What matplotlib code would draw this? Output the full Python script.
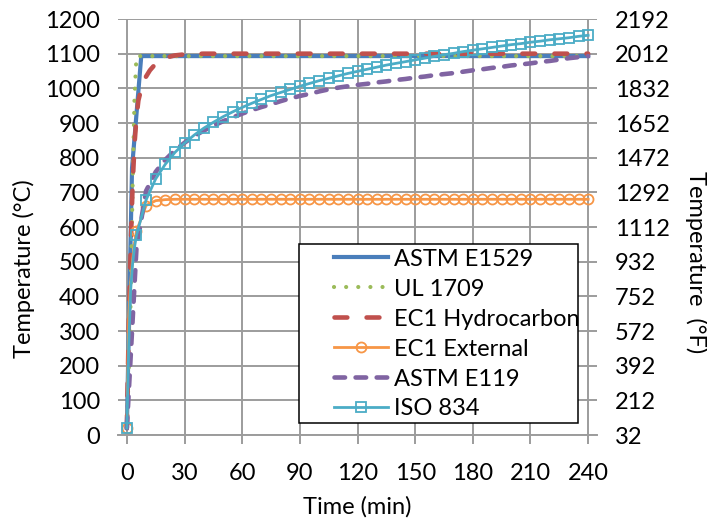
import matplotlib
matplotlib.use("Agg")
import matplotlib.pyplot as plt
from matplotlib.patches import Rectangle

plt.rcParams['font.family'] = ['Lato', 'DejaVu Sans']

# ---- data (time in min, temperature in degC) ----
t_e1529 = [0, 2.7, 7.5, 240]
T_e1529 = [20, 770, 1093, 1093]

t_ul1709 = [0, 1, 2, 3, 4, 5, 240]
T_ul1709 = [20, 190, 390, 720, 975, 1093, 1093]

t_ec1_hc = [0, 1, 2, 3, 4, 5, 6, 8, 10, 12, 15, 20, 25, 30, 40, 240]
T_ec1_hc = [20, 310, 540, 720, 840, 915, 965, 1010, 1034, 1052, 1071, 1088,
            1095, 1098, 1100, 1100]

t_5min = [0, 1, 2, 3, 4] + list(range(5, 245, 5))
T_ec1_ext = [20, 346, 441, 506, 554,
             588, 662, 676, 679, 680, 680, 680, 680, 680, 680,
             680, 680, 680, 680, 680, 680, 680, 680, 680, 680,
             680, 680, 680, 680, 680, 680, 680, 680, 680, 680,
             680, 680, 680, 680, 680, 680, 680, 680, 680, 680,
             680, 680, 680, 680, 680, 680, 680, 680]
T_iso834 = [20, 260, 420, 495, 542,
            576, 678, 739, 781, 815, 842, 865, 885, 902, 918,
            932, 945, 957, 968, 979, 988, 997, 1006, 1014, 1022,
            1029, 1036, 1043, 1049, 1055, 1061, 1067, 1072, 1077, 1082,
            1087, 1092, 1097, 1101, 1106, 1110, 1114, 1118, 1122, 1126,
            1129, 1133, 1136, 1140, 1143, 1146, 1150, 1153]

t_e119 = list(range(0, 245, 5))
T_e119 = [20, 538, 704, 759, 794, 821, 843, 862, 878, 892,
          905, 916, 927, 937, 946, 954, 963, 971, 978, 984,
          991, 997, 1002, 1006, 1010, 1013, 1017, 1020, 1024, 1027,
          1031, 1034, 1038, 1041, 1044, 1048, 1052, 1055, 1059, 1062,
          1066, 1069, 1072, 1076, 1079, 1083, 1087, 1090, 1093]

x_ticks = [0, 30, 60, 90, 120, 150, 180, 210, 240]
c_ticks = list(range(0, 1300, 100))
f_ticks = [32, 212, 392, 572, 752, 932, 1112, 1292, 1472, 1652, 1832, 2012, 2192]

marks = [0] + list(range(5, len(t_5min)))
grid_c = '#9c9c9c'
fs = 17

fig = plt.figure(figsize=(7.07, 5.21), dpi=100)
ax = fig.add_axes([118/707, 1-435/521, 479/707, 416/521])

ax.plot(t_e1529, T_e1529, color='#4a7ebb', lw=3.0, label='ASTM E1529',
        solid_joinstyle='miter')
ax.plot(t_ul1709, T_ul1709, color='#9bbb59', lw=3.0, ls=(0, (0.01, 2.9)),
        dash_capstyle='round', label='UL 1709')
ax.plot(t_ec1_hc, T_ec1_hc, color='#c0504d', lw=3.3, ls=(0, (2.8, 4.2)),
        dash_capstyle='round', label='EC1 Hydrocarbon')
ax.plot(t_5min, T_ec1_ext, color='#f79646', lw=2.0, marker='o', ms=7.2,
        mfc='none', mew=1.3, markevery=marks, label='EC1 External')
ax.plot(t_e119, T_e119, color='#8064a2', lw=3.3, ls=(0, (2.3, 2.3)),
        dash_capstyle='round', label='ASTM E119')
ax.plot(t_5min, T_iso834, color='#4bacc6', lw=2.0, marker='s', ms=7.2,
        mfc='none', mew=1.3, markevery=marks, label='ISO 834')

ax.set_xlim(-4.6, 244.6)
ax.set_ylim(0, 1200)
ax.set_xticks(x_ticks)
ax.set_yticks(c_ticks)
ax.grid(True, color=grid_c, lw=1.4)
ax.set_axisbelow(True)
for s in ['top', 'left', 'right']:
    ax.spines[s].set_visible(False)
ax.spines['bottom'].set_color(grid_c)
ax.spines['bottom'].set_linewidth(1.4)
ax.tick_params(axis='x', length=6.5, width=1.4, color=grid_c, pad=14,
               labelsize=fs)
ax.tick_params(axis='y', length=0, pad=13, labelsize=fs)
ax.set_xlabel('Time (min)', fontsize=fs, labelpad=8)
ax.set_ylabel('Temperature (°C)', fontsize=fs, va='center')
ax.yaxis.set_label_coords(-0.196, 0.401)

ax2 = ax.twinx()
ax2.set_ylim(32, 2192)
ax2.set_yticks(f_ticks)
ax2.tick_params(axis='y', length=0, pad=13, labelsize=fs)
for s in ['top', 'left', 'right', 'bottom']:
    ax2.spines[s].set_visible(False)
ax2.set_ylabel('Temperature  (°F)', fontsize=fs, rotation=270)
ax2.yaxis.label.set_va('center')
ax2.yaxis.set_label_coords(1.207, 0.416)

# legend box
ax.add_patch(Rectangle((0.378, 0.029), 0.582, 0.43, transform=ax.transAxes,
                       facecolor='white', edgecolor='black', lw=1.1, zorder=5))
leg = ax.legend(loc='upper left', bbox_to_anchor=(0.451, 0.448),
                frameon=False, fontsize=fs, borderpad=0, borderaxespad=0,
                handlelength=2.3, handletextpad=0.25, labelspacing=0.38)
leg.set_zorder(6)

fig.savefig('out.png', dpi=100)
